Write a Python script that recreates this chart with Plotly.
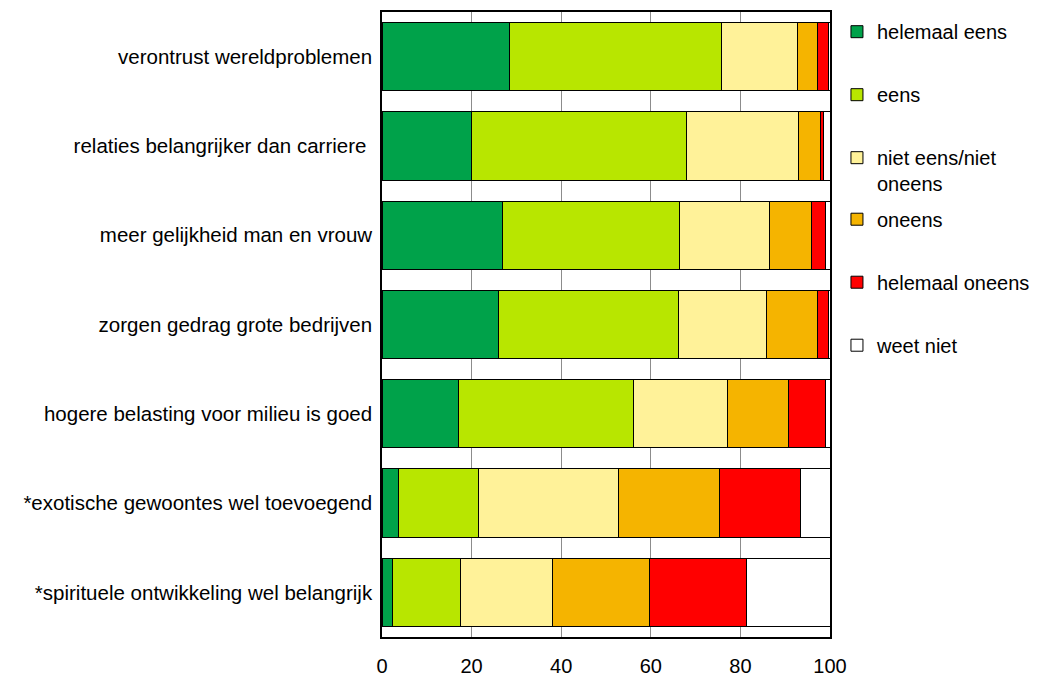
import plotly.graph_objects as go

categories = [
    "verontrust wereldproblemen",
    "relaties belangrijker dan carriere\u00a0",
    "meer gelijkheid man en vrouw",
    "zorgen gedrag grote bedrijven",
    "hogere belasting voor milieu is goed",
    "*exotische gewoontes wel toevoegend",
    "*spirituele ontwikkeling wel belangrijk",
]

series_names = ["helemaal eens", "eens", "niet eens/niet<br>oneens", "oneens", "helemaal oneens", "weet niet"]

helemaal_eens = [28.4, 19.9, 26.9, 26.0, 17.0, 3.6, 2.3]
eens = [47.3, 48.0, 39.5, 40.2, 39.2, 17.9, 15.2]
neutraal = [17.1, 25.0, 20.1, 19.6, 21.0, 31.3, 20.6]
oneens = [4.4, 4.9, 9.4, 11.4, 13.5, 22.5, 21.6]
helemaal_oneens = [2.4, 0.7, 3.0, 2.4, 8.3, 18.1, 21.6]
weet_niet = [0.4, 1.5, 1.1, 0.4, 1.0, 6.6, 18.7]

series_values = [helemaal_eens, eens, neutraal, oneens, helemaal_oneens, weet_niet]
colors = ["#00A24A", "#B8E600", "#FFF299", "#F5B400", "#FF0000", "#FFFFFF"]
legend_ids = ["legend", "legend", "legend", "legend2", "legend2", "legend2"]

fig = go.Figure()
for i, (name, vals, col) in enumerate(zip(series_names, series_values, colors)):
    fig.add_trace(go.Bar(
        y=categories, x=vals, name=name, orientation="h",
        marker=dict(color=col, line=dict(color="#000000", width=1)),
        legendgroup=f"g{i}", legend=legend_ids[i],
    ))

leg_common = dict(
    xref="container", yref="container",
    xanchor="left", yanchor="top",
    traceorder="grouped", tracegroupgap=34, valign="top",
    font=dict(size=20), itemwidth=30,
    borderwidth=0, bgcolor="rgba(0,0,0,0)",
)

fig.update_layout(
    width=1041, height=677,
    barmode="stack", bargap=0.235,
    plot_bgcolor="white", paper_bgcolor="white",
    margin=dict(l=382, r=211, t=12, b=40, autoexpand=False),
    font=dict(family="Liberation Sans, Arial, sans-serif", size=20, color="#000000"),
    showlegend=True,
    legend=dict(x=0.804, y=0.982, **leg_common),
    legend2=dict(x=0.804, y=0.705, **leg_common),
    xaxis=dict(
        range=[0, 100], tickvals=[0, 20, 40, 60, 80, 100],
        showgrid=True, gridcolor="#8c8c8c", gridwidth=1.2,
        showline=True, linecolor="#000000", linewidth=1.5, mirror=True,
        ticks="", tickfont=dict(size=20), ticklabelstandoff=10,
        zeroline=False, automargin=False,
    ),
    yaxis=dict(
        categoryorder="array", categoryarray=categories, autorange="reversed",
        showline=True, linecolor="#000000", linewidth=1.5, mirror=True,
        ticks="", tickfont=dict(size=20.5), ticklabelstandoff=4,
        showgrid=False, automargin=False,
    ),
)

fig.write_html(
    "out.html",
    config={"displayModeBar": False},
    post_script="document.body.style.margin='0';document.body.style.overflow='hidden';",
)
